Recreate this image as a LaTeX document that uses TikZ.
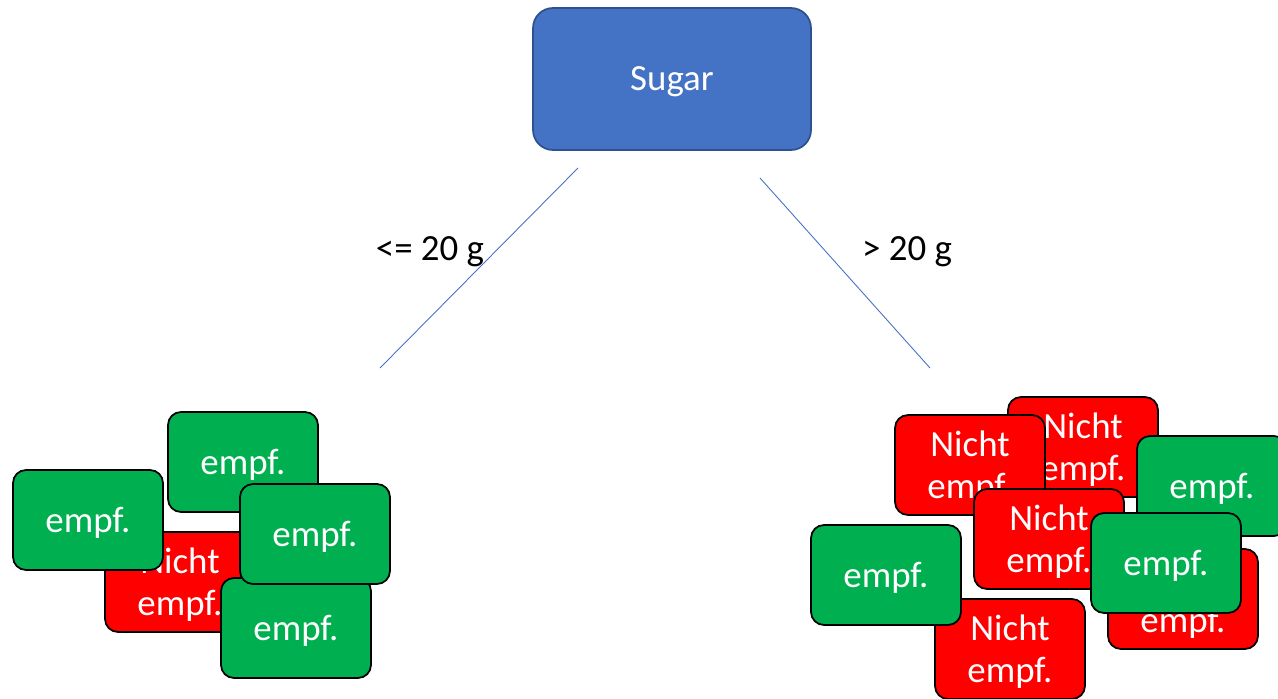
\documentclass[tikz,border=0pt]{standalone}
\usepackage{fontspec}
\setmainfont{Carlito}
\usepackage{tikz}
\definecolor{sugarblue}{HTML}{4472C4}
\definecolor{sugarborder}{HTML}{2F528F}
\definecolor{empfgreen}{HTML}{00B050}
\definecolor{nichtred}{HTML}{FF0000}
\tikzset{
  treenode/.style = {align=center, inner sep=0pt, text centered, text depth=0pt,
    font=\fontsize{21}{24}\selectfont},
  dt_root/.style = {treenode, rectangle, white, draw=sugarborder, fill=sugarblue,
    rounded corners=0.4cm, line width=1pt,
    minimum width=5.56cm, minimum height=2.84cm},% Wurzel
  dt_g/.style = {treenode, rectangle, white, draw=black, fill=empfgreen,
    rounded corners=0.26cm, line width=1pt,
    minimum width=3cm, minimum height=2cm},% Blatt, empfohlen
  dt_r/.style = {dt_g, fill=nichtred},% Blatt, nicht empfohlen
  dt_edge/.style = {draw=sugarblue, line width=0.5pt}
}

\begin{document}
\begin{tikzpicture}[x=0.02cm,y=-0.02cm]
    \useasboundingbox (0,0) rectangle (1278,699);
    \node [dt_root] (sugar) at (672,79) {Sugar};
    \coordinate (lt) at (578,168);
    \coordinate (lb) at (380,368);
    \coordinate (rt) at (760,178);
    \coordinate (rb) at (930,368);
    \draw [dt_edge] (lt) -- (lb);
    \draw [dt_edge] (rt) -- (rb);
    \node [treenode] (le) at (430,249) {<= 20 g};
    \node [treenode] (gt) at (907,249) {> 20 g};
    % linker Haufen
    \node [dt_r] (l3) at (180,582) {Nicht\\empf.};
    \node [dt_g] (l1) at (243,462) {empf.};
    \node [dt_g] (l2) at (88,520) {empf.};
    \node [dt_g] (l5) at (296,628) {empf.};
    \node [dt_g] (l4) at (315,534) {empf.};
    % rechter Haufen
    \node [dt_r] (r1) at (1083,447) {Nicht\\empf.};
    \node [dt_r] (r2) at (970,465) {Nicht\\empf.};
    \node [dt_g] (r3) at (1212,486) {empf.};
    \node [dt_r] (r4) at (1049,539) {Nicht\\empf.};
    \node [dt_r] (r6) at (1010,649) {Nicht\\empf.};
    \node [dt_g] (r5) at (886,575) {empf.};
    \node [dt_r] (r7) at (1183,599) {Nicht\\empf.};
    \node [dt_g] (r8) at (1166,563) {empf.};
\end{tikzpicture}
\end{document}
